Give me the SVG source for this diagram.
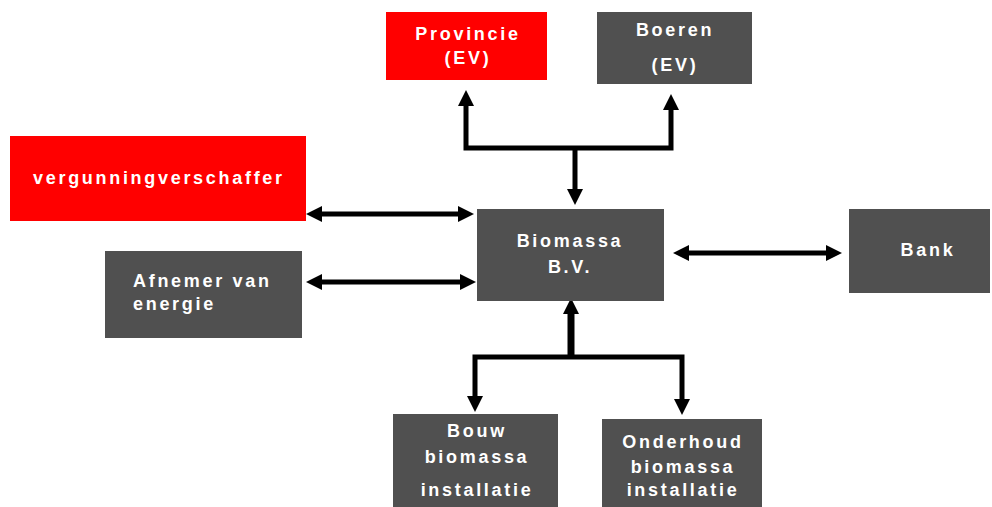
<svg xmlns="http://www.w3.org/2000/svg" width="992" height="507" viewBox="0 0 992 507">
<defs>
<style>
.red{fill:#ff0000}
.gray{fill:#505050}
.t{fill:#ffffff;font-family:"Liberation Sans",Arial,sans-serif;font-weight:bold;font-size:18px;letter-spacing:2.7px}
.c{text-anchor:middle}
.ln{fill:none;stroke:#000;stroke-width:5;marker-end:url(#ah)}
.both{marker-start:url(#ah)}
</style>
<marker id="ah" viewBox="0 0 16 16" markerWidth="16" markerHeight="16" markerUnits="userSpaceOnUse" refX="4" refY="8" orient="auto-start-reverse">
<path d="M0,0 L16,8 L0,16 z" fill="#000"/>
</marker>
</defs>
<rect width="992" height="507" fill="#ffffff"/>
<g id="connectors">
<path class="ln both" d="M466,102 V148 H671 V106"/>
<path class="ln" d="M575,148 V193"/>
<path class="ln both" d="M318,214 H462"/>
<path class="ln both" d="M318,282 H464"/>
<path class="ln both" d="M685,253 H830"/>
<path class="ln" style="stroke-width:7" d="M571,357 V310"/>
<path class="ln both" d="M475,400 V357 H682 V403"/>
</g>
<g id="provincie">
<rect class="red" x="386" y="12" width="161" height="68"/>
<text class="t c" x="468" y="40">Provincie</text>
<text class="t c" x="468" y="64">(EV)</text>
</g>
<g id="boeren">
<rect class="gray" x="597" y="12" width="155" height="72"/>
<text class="t c" x="675" y="36">Boeren</text>
<text class="t c" x="675" y="71">(EV)</text>
</g>
<g id="vergunningverschaffer">
<rect class="red" x="10" y="136" width="296" height="85"/>
<text class="t" x="33" y="184">vergunningverschaffer</text>
</g>
<g id="afnemer">
<rect class="gray" x="105" y="251" width="197" height="87"/>
<text class="t" x="133" y="287">Afnemer van</text>
<text class="t" x="133" y="310">energie</text>
</g>
<g id="biomassa">
<rect class="gray" x="477" y="209" width="187" height="92"/>
<text class="t c" x="570" y="247">Biomassa</text>
<text class="t c" x="570" y="273">B.V.</text>
</g>
<g id="bank">
<rect class="gray" x="849" y="209" width="141" height="84"/>
<text class="t c" x="928" y="256">Bank</text>
</g>
<g id="bouw">
<rect class="gray" x="393" y="414" width="165" height="93"/>
<text class="t c" x="477" y="437">Bouw</text>
<text class="t c" x="477" y="463">biomassa</text>
<text class="t c" x="477" y="496">installatie</text>
</g>
<g id="onderhoud">
<rect class="gray" x="602" y="419" width="160" height="88"/>
<text class="t c" x="683" y="448">Onderhoud</text>
<text class="t c" x="683" y="473">biomassa</text>
<text class="t c" x="683" y="496">installatie</text>
</g>
</svg>
